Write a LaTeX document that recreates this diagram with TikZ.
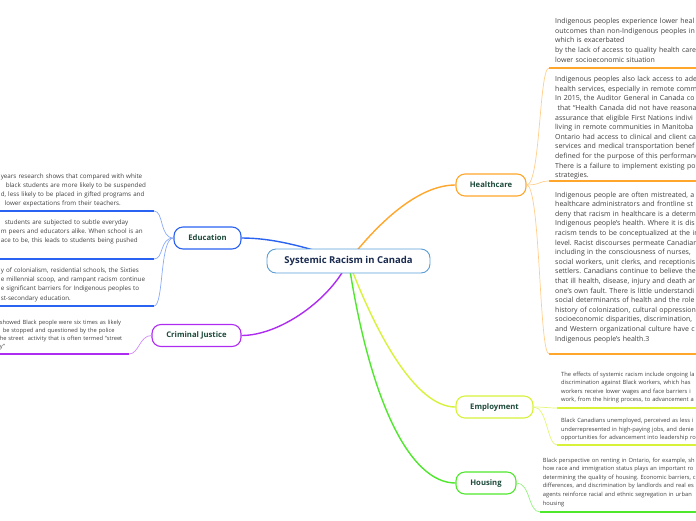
\documentclass[tikz,border=0pt]{standalone}
\usepackage{fontspec}
\setmainfont{Open Sans}
\usepackage{xcolor}
\definecolor{rootedge}{HTML}{5A9ED8}
\definecolor{roottext}{HTML}{1A2B50}
\definecolor{topictext}{HTML}{1D4A3A}
\definecolor{notetext}{HTML}{404040}
\definecolor{health}{HTML}{FFA62B}
\definecolor{school}{HTML}{2A62F2}
\definecolor{justice}{HTML}{AE2CF2}
\definecolor{jobs}{HTML}{D8F23A}
\definecolor{homes}{HTML}{4FE82C}
\usepackage{tikz}
\usetikzlibrary{positioning}
\frenchspacing

\begin{document}
\begin{tikzpicture}[x=1pt, y=1pt,
    every node/.style={font=\fontsize{6}{9}\selectfont},
    rootbox/.style={draw=rootedge, line width=0.9pt, fill=white, rounded corners=9pt,
                    minimum width=163pt, minimum height=24pt, text=roottext,
                    font=\bfseries\fontsize{9.5}{11}\selectfont},
    topic/.style={draw=#1, line width=1.1pt, fill=white, rounded corners=9pt,
                  minimum height=22pt, text=topictext,
                  font=\bfseries\fontsize{7.7}{9}\selectfont},
    note/.style={align=left, text=notetext, inner xsep=6pt},
    noteR/.style={note, anchor=south west, text width=170pt},
    noteL/.style={note, anchor=south east},
    hctext/.style={font=\fontsize{7}{9.6}\selectfont},
    edtext/.style={font=\fontsize{6.25}{9.1}\selectfont},
    smtext/.style={font=\fontsize{5.75}{8.6}\selectfont},
    link/.style={draw=#1, line width=1.4pt},
    twig/.style={draw=#1, line width=0.7pt},
    under/.style={draw=#1, line width=1.2pt}]
  \useasboundingbox (0,0) rectangle (696,-520);
  \clip (0,0) rectangle (696,-520);
  \coordinate (hub) at (348.5,-261);
  \node[topic=health, minimum width=70pt]  (hc) at (491,-185)     {Healthcare};
  \node[topic=school, minimum width=67pt]  (ed) at (207.5,-238)   {Education};
  \node[topic=justice, minimum width=89pt] (cj) at (196.5,-335.5) {Criminal Justice};
  \node[topic=jobs, minimum width=77pt]    (em) at (494.5,-407)   {Employment};
  \node[topic=homes, minimum width=60pt]   (ho) at (486,-483)     {Housing};
  \node[noteR, hctext, inner ysep=5.7pt] (hc1) at (549,-68)
    {Indigenous peoples experience lower heal\\outcomes than non-Indigenous peoples in\\which is exacerbated\\by the lack of access to quality health care\\lower socioeconomic situation};
  \node[noteR, hctext, inner ysep=1.4pt] (hc2) at (549,-181)
    {Indigenous peoples also lack access to ade\\health services, especially in remote comm\\In 2015, the Auditor General in Canada co\\\ that “Health Canada did not have reasona\\assurance that eligible First Nations indivi\\living in remote communities in Manitoba\\Ontario had access to clinical and client ca\\services and medical transportation benef\\defined for the purpose of this performanc\\There is a failure to implement existing po\\strategies.};
  \node[noteR, hctext, inner ysep=11.1pt] (hc3) at (549,-354)
    {Indigenous people are often mistreated, a\\healthcare administrators and frontline st\\deny that racism in healthcare is a determ\\Indigenous people’s health. Where it is dis\\racism tends to be conceptualized at the in\\level. Racist discourses permeate Canadian\\including in the consciousness of nurses,\\social workers, unit clerks, and receptionis\\settlers. Canadians continue to believe the\\that ill health, disease, injury and death ar\\one’s own fault. There is little understandi\\social determinants of health and the role\\history of colonization, cultural oppression\\socioeconomic disparities, discrimination,\\and Western organizational culture have c\\Indigenous people’s health.3};
  \node[noteR, smtext, inner xsep=4pt, inner ysep=4.5pt] (em1) at (557,-408)
    {The effects of systemic racism include ongoing la\\discrimination against Black workers, which has\\workers receive lower wages and face barriers i\\work, from the hiring process, to advancement a};
  \node[noteR, smtext, inner xsep=4pt, inner ysep=3.7pt] (em2) at (557,-445)
    {Black Canadians unemployed, perceived as less i\\underrepresented in high-paying jobs, and denie\\opportunities for advancement into leadership ro};
  \node[noteR, smtext, inner xsep=2.7pt, inner ysep=5.4pt] (ho1) at (540,-512)
    {Black perspective on renting in Ontario, for example, sh\\how race and immigration status plays an important ro\\determining the quality of housing. Economic barriers, c\\differences, and discrimination by landlords and real es\\agents reinforce racial and ethnic segregation in urban\\housing};
  \node[noteL, edtext, text width=147pt, inner ysep=4pt] (ed1) at (154,-211)
    {years research shows that compared with white\\\hspace*{5pt}black students are more likely to be suspended\\d, less likely to be placed in gifted programs and\\\hspace*{4pt}lower expectations from their teachers.};
  \node[noteL, edtext, text width=147pt, inner ysep=14.6pt] (ed2) at (154,-259)
    {\hspace*{4pt}students are subjected to subtle everyday\\m peers and educators alike. When school is an\\ace to be, this leads to students being pushed};
  \node[noteL, edtext, text width=147pt, inner ysep=4.3pt] (ed3) at (154,-306)
    {y of colonialism, residential schools, the Sixties\\e millennial scoop, and rampant racism continue\\e significant barriers for Indigenous peoples to\\st-secondary education.};
  \node[noteL, font=\fontsize{5.75}{7.9}\selectfont, text width=125pt, inner xsep=4pt, inner ysep=4.2pt] (cj1) at (129,-354)
    {showed Black people were six times as likely\\\hspace*{3pt}be stopped and questioned by the police\\he street\ \ activity that is often termed “street\\y”};
  \draw[link=health]  (hub) .. controls +(32,41) and +(-36,0) .. (hc.west);
  \draw[link=school]  (hub) .. controls +(-48,16) and +(29,0) .. (ed.east);
  \draw[link=justice] (hub) .. controls +(-18,-39) and +(38,0) .. (cj.east);
  \draw[link=jobs]    (hub) .. controls +(26,-69) and +(-41,0) .. (em.west);
  \draw[link=homes]   (hub) .. controls +(21,-139) and +(-46,0) .. (ho.west);
  \draw[twig=health!55] (hc.east) .. controls +(14,0) and +(-10,0) .. (hc1.south west);
  \draw[twig=health!55] (hc.east) .. controls +(14,0) and +(-10,0) .. (hc2.south west);
  \draw[twig=health!55] (hc.east) .. controls +(14,0) and +(-10,0) .. (hc3.south west);
  \draw[twig=school!55] (ed.west) .. controls +(-14,0) and +(10,0) .. (ed1.south east);
  \draw[twig=school!55] (ed.west) .. controls +(-14,0) and +(10,0) .. (ed2.south east);
  \draw[twig=school!55] (ed.west) .. controls +(-14,0) and +(10,0) .. (ed3.south east);
  \draw[twig=justice!55] (cj.west) .. controls +(-12,0) and +(10,0) .. (cj1.south east);
  \draw[twig=jobs!70] (em.east) .. controls +(12,0) and +(-10,0) .. (em1.south west);
  \draw[twig=jobs!70] (em.east) .. controls +(14,0) and +(-10,0) .. (em2.south west);
  \draw[twig=homes!60] (ho.east) .. controls +(14,0) and +(-12,0) .. (ho1.south west);
  \draw[under=health] (hc1.south west) -- (hc1.south east);
  \draw[under=health] (hc2.south west) -- (hc2.south east);
  \draw[under=health] (hc3.south west) -- (hc3.south east);
  \draw[under=jobs] (em1.south west) -- (em1.south east);
  \draw[under=jobs] (em2.south west) -- (em2.south east);
  \draw[under=homes] (ho1.south west) -- (ho1.south east);
  \draw[under=school] (ed1.south east) -- (ed1.south west);
  \draw[under=school] (ed2.south east) -- (ed2.south west);
  \draw[under=school] (ed3.south east) -- (ed3.south west);
  \draw[under=justice] (cj1.south east) -- (cj1.south west);
  \node[rootbox] (root) at (hub) {Systemic Racism in Canada};
\end{tikzpicture}
\end{document}
